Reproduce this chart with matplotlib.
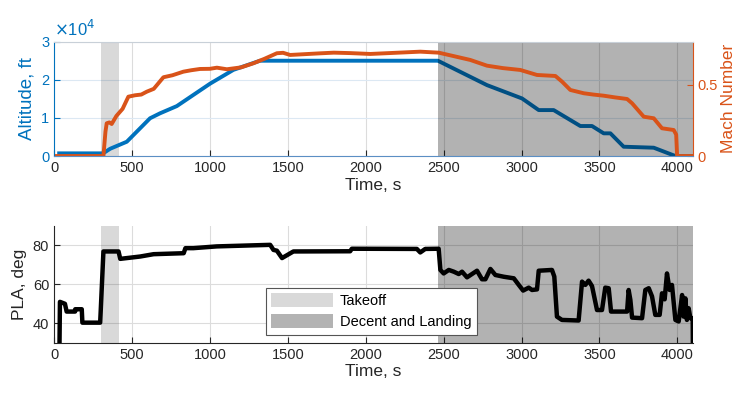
import matplotlib
matplotlib.use("Agg")
import matplotlib.pyplot as plt
from matplotlib.patches import Patch
from matplotlib.ticker import FuncFormatter

plt.rcParams['font.family'] = ['Liberation Sans', 'DejaVu Sans']

# ---- data ----
alt_t = [33, 315, 360, 467, 616, 680, 788, 1002, 1151, 1322, 2463, 2778, 3003,
         3110, 3206, 3377, 3452, 3527, 3570, 3655, 3848, 3987, 4100]
alt_ft = [700, 700, 1900, 3750, 9900, 11200, 13100, 19000, 22600, 25000, 25000,
          18600, 15100, 12050, 12050, 7870, 7870, 5950, 5950, 2440, 2180, 0, 0]

mach_t = [0, 317, 330, 338, 355, 370, 400, 440, 477, 520, 560, 595, 640, 702,
          760, 830, 880, 937, 1000, 1045, 1109, 1200, 1280, 1350, 1430, 1470,
          1515, 1600, 1700, 1795, 1900, 2029, 2150, 2250, 2350, 2468, 2560,
          2671, 2778, 2880, 2992, 3099, 3217, 3260, 3313, 3399, 3460, 3527,
          3600, 3677, 3709, 3784, 3848, 3901, 3976, 3992, 3998, 4100]
mach = [0, 0, 0.17, 0.229, 0.235, 0.224, 0.28, 0.33, 0.415, 0.425, 0.43, 0.45,
        0.47, 0.551, 0.565, 0.59, 0.60, 0.609, 0.61, 0.618, 0.607, 0.62, 0.649,
        0.68, 0.719, 0.722, 0.707, 0.712, 0.718, 0.723, 0.72, 0.714, 0.72,
        0.725, 0.73, 0.723, 0.70, 0.672, 0.632, 0.615, 0.602, 0.567, 0.56,
        0.52, 0.462, 0.439, 0.43, 0.422, 0.41, 0.399, 0.369, 0.275, 0.264,
        0.194, 0.182, 0.15, 0, 0]

pla_t = [34, 38, 70, 81, 135, 136, 178, 182, 296, 300, 317, 414, 425, 553, 639,
         832, 843, 894, 1044, 1387, 1408, 1430, 1463, 1536, 1900, 1911, 2328,
         2350, 2382, 2468, 2479, 2500, 2533, 2565, 2597, 2618, 2650, 2714,
         2746, 2768, 2800, 2832, 2886, 2950, 2982, 3010, 3046, 3067, 3099,
         3110, 3195, 3210, 3227, 3259, 3366, 3388, 3409, 3430, 3452, 3484,
         3516, 3537, 3559, 3574, 3677, 3687, 3698, 3709, 3773, 3794, 3816,
         3837, 3858, 3886, 3901, 3918, 3933, 3950, 3965, 3987, 4008, 4030,
         4040, 4051, 4061, 4072, 4083, 4098, 4100]
pla = [20, 51, 50, 46, 46, 47.2, 47.2, 40.3, 40.3, 47, 76.9, 76.9, 73.1, 74.3,
       75.5, 76, 78.6, 78.6, 79.5, 80.3, 77.7, 77.3, 73.5, 76.9, 77.0, 78.3,
       78.2, 76.4, 78.2, 78.3, 67.4, 65.6, 67.4, 66.5, 65.3, 66.5, 63.6, 67.0,
       62.6, 62.6, 67.9, 64.8, 63.9, 63.1, 59.7, 56.8, 58.3, 57.1, 57.4, 67.0,
       67.4, 64.0, 43.4, 41.7, 41.4, 61.4, 59.7, 61.9, 59.1, 46.8, 46.8, 58.3,
       58.0, 46.0, 46.0, 57.1, 52.0, 42.9, 42.6, 57.1, 58.0, 53.8, 44.3, 44.3,
       55.4, 52.3, 65.6, 57.1, 59.7, 41.7, 40.9, 54.5, 43.4, 52.8, 41.7, 47.7,
       42.6, 42.6, 20]

takeoff = (300, 415)
descent = (2463, 4100)
xticks = [0, 500, 1000, 1500, 2000, 2500, 3000, 3500, 4000]

BLUE = '#0072BD'
ORANGE = '#D95319'
TXT = '#262626'

fig = plt.figure(figsize=(7.4, 3.93), dpi=100)

# ---------------- top axes ----------------
ax1 = fig.add_axes([0.073, 0.603, 0.8635, 0.291])
ax1.set_xlim(0, 4100)
ax1.set_ylim(0, 30000)
ax1.set_yticks([0, 10000, 20000, 30000])
ax1.yaxis.set_major_formatter(FuncFormatter(lambda v, p: f"{v/1e4:g}"))
ax1.set_xticks(xticks)
ax1.grid(True, axis='x', color='#dcdcdc', lw=0.8, zorder=0)
ax1.grid(True, axis='y', color='#dce8f3', lw=0.8, zorder=0)
ax1.set_axisbelow(True)
ax1.axvspan(*takeoff, color='black', alpha=0.15, lw=0, zorder=1.5)
ax1.plot(alt_t, alt_ft, color=BLUE, lw=2.8, zorder=2, solid_joinstyle='round')
ax1.axvspan(*descent, color='black', alpha=0.3, lw=0, zorder=3)
ax1.tick_params(axis='y', colors=BLUE, direction='in', length=4, labelsize=10.5)
ax1.tick_params(axis='x', colors=TXT, direction='in', length=4, labelsize=10.5)
ax1.set_ylabel('Altitude, ft', color=BLUE, fontsize=13.5, labelpad=4)
ax1.set_xlabel('Time, s', color=TXT, fontsize=12.5, labelpad=2)
for s in ax1.spines.values():
    s.set_visible(False)
ax1.text(0.0, 1.02, r'$\times$10$^{4}$', transform=ax1.transAxes, color=BLUE,
         fontsize=12, ha='left', va='bottom')

ax2 = ax1.twinx()
ax2.set_ylim(0, 0.8)
ax2.set_yticks([0, 0.5])
ax2.yaxis.set_major_formatter(FuncFormatter(lambda v, p: f"{v:g}"))
ax2.plot(mach_t, mach, color=ORANGE, lw=2.8, zorder=2, solid_joinstyle='round')
ax2.tick_params(axis='y', colors=ORANGE, direction='in', length=4, labelsize=10.5)
ax2.set_ylabel('Mach Number', color=ORANGE, fontsize=12.5, labelpad=2)
ax2.spines['left'].set_color(BLUE)
ax2.spines['right'].set_color(ORANGE)
ax2.spines['bottom'].set_color('#5b8fc4')
ax2.spines['top'].set_color('#c8d0d8')
for s in ax2.spines.values():
    s.set_linewidth(0.8)

# ---------------- bottom axes ----------------
ax3 = fig.add_axes([0.073, 0.128, 0.8635, 0.297])
ax3.set_xlim(0, 4100)
ax3.set_ylim(30, 90)
ax3.set_yticks([40, 60, 80])
ax3.set_xticks(xticks)
ax3.grid(True, color='#dcdcdc', lw=0.8, zorder=0)
ax3.set_axisbelow(True)
ax3.axvspan(*takeoff, color='black', alpha=0.15, lw=0, zorder=1.5)
ax3.axvspan(*descent, color='black', alpha=0.3, lw=0, zorder=1.6)
ax3.plot(pla_t, pla, color='black', lw=3.2, zorder=3, solid_joinstyle='round')
ax3.tick_params(colors=TXT, direction='in', length=4, labelsize=10.5)
ax3.set_ylabel('PLA, deg', color=TXT, fontsize=12.5, labelpad=4)
ax3.set_xlabel('Time, s', color=TXT, fontsize=12.5, labelpad=2)
ax3.spines['top'].set_visible(False)
ax3.spines['right'].set_visible(False)
ax3.spines['left'].set_color(TXT)
ax3.spines['bottom'].set_color(TXT)

leg = ax3.legend([Patch(facecolor='#d9d9d9', edgecolor='none'),
                  Patch(facecolor='#b3b3b3', edgecolor='none')],
                 ['Takeoff', 'Decent and Landing'],
                 loc='lower left', bbox_to_anchor=(0.332, 0.07),
                 fancybox=False, framealpha=1, edgecolor='#555555',
                 fontsize=10.5, handlelength=4.2, handleheight=1.1,
                 borderpad=0.35, labelspacing=0.45, handletextpad=0.5,
                 borderaxespad=0)
leg.get_frame().set_linewidth(0.8)
leg.set_zorder(5)

fig.savefig('out.png', dpi=100)
